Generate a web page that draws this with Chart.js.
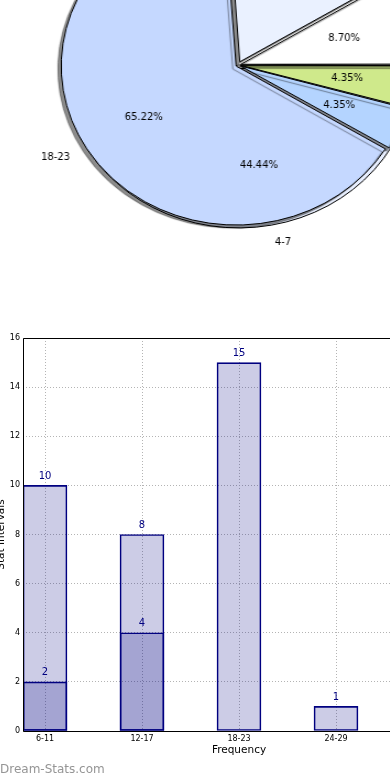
<!DOCTYPE html>
<html><head><meta charset="utf-8">
<script src="https://cdn.jsdelivr.net/npm/chart.js@4.4.1/dist/chart.umd.min.js"></script>
<style>
html,body{margin:0;padding:0;background:#fff;width:390px;height:780px;overflow:hidden;position:relative;font-family:"DejaVu Sans",sans-serif;}
.box{position:absolute;}
#pieBack,#pieFront{left:38px;top:-135px;width:400px;height:400px;transform:scaleX(1.1);transform-origin:50% 50%;}
#barBox{left:-8px;top:330px;width:463px;height:441px;}
#wm{position:absolute;left:0;top:762px;font:12px/14px "DejaVu Sans",sans-serif;color:#959595;white-space:nowrap;}
</style></head><body>
<div class="box" id="pieBack"><canvas id="c1"></canvas></div>
<div class="box" id="pieFront"><canvas id="c2"></canvas></div>
<div class="box" id="barBox"><canvas id="c3"></canvas></div>
<div id="wm">Dream-Stats.com</div>
<script>
// ---- data ----
const pieLabels = ['24-29', '30-35', '18-23', '12-17', '6-11'];
const pieValues = [1, 1, 15, 4, 2];
const pieColors = ['#CFE98B', '#B4D4FF', '#C5D8FF', '#EAF1FF', '#FFFFFF'];
const backLabels = ['4-7', '8-11'];
const backValues = [4, 5];
const backColors = ['#E8EFFF', '#FFFFFF'];
const barCategories = ['6-11', '12-17', '18-23', '24-29'];
const totalValues = [10, 8, 15, 1];
const subsetValues = [2, 4, null, null];

// ---- pie helpers ----
const FONT = '"DejaVu Sans", sans-serif';
const R_PIE = 157;
const STRETCH = 1.1;
function effOffset(px, frac) {
  const c = frac * 2 * Math.PI;
  const fix = 1 - Math.sin(Math.min(Math.PI, c));
  return px * 4 / (1 + fix);
}
function sum(a) { return a.reduce((s, v) => s + v, 0); }
const frontExplode = [4, 4, 4, 4, 4];
const backExplode = [6, 0];

function pieText(ctx, chart, labels, values, explode) {
  const meta = chart.getDatasetMeta(0);
  const total = sum(values);
  ctx.save();
  ctx.fillStyle = '#000';
  ctx.font = '10px ' + FONT;
  meta.data.forEach((arc, i) => {
    const p = arc.getProps(['x', 'y', 'startAngle', 'endAngle', 'outerRadius'], true);
    const mid = (p.startAngle + p.endAngle) / 2;
    const ex = explode[i];
    const c = Math.cos(mid), s = Math.sin(mid);
    const rp = p.outerRadius * 0.6 + ex + 2;
    ctx.save();
    ctx.translate(p.x + c * rp, p.y + s * rp);
    ctx.scale(1 / STRETCH, 1);
    ctx.textAlign = 'center'; ctx.textBaseline = 'middle';
    ctx.fillText((values[i] / total * 100).toFixed(2) + '%', 0, 0);
    ctx.restore();
    const rl = p.outerRadius * 1.1 + ex + 2;
    ctx.save();
    ctx.translate(p.x + c * rl, p.y + s * rl);
    ctx.scale(1 / STRETCH, 1);
    ctx.textAlign = c < 0 ? 'right' : 'left'; ctx.textBaseline = 'middle';
    ctx.fillText(labels[i], 0, 0);
    ctx.restore();
  });
  ctx.restore();
}

function pieConfig(labels, values, colors, explode, rotation, extraPlugins) {
  const total = sum(values);
  return {
    type: 'pie',
    data: { labels: labels, datasets: [{
      data: values, backgroundColor: colors, borderColor: '#000', borderWidth: 1,
      rotation: rotation, hoverOffset: 0,
      offset: (ctx) => (ctx.dataIndex === undefined ? 0 : effOffset(explode[ctx.dataIndex], values[ctx.dataIndex] / total))
    }] },
    options: {
      responsive: true, maintainAspectRatio: false, animation: false, events: [],
      radius: R_PIE, rotation: rotation,
      layout: { padding: 0 },
      plugins: { legend: { display: false }, tooltip: { enabled: false } }
    },
    plugins: extraPlugins
  };
}

const backChart = new Chart(document.getElementById('c1'),
  pieConfig(backLabels, backValues, backColors, backExplode, 89.3, []));

const frontChart = new Chart(document.getElementById('c2'),
  pieConfig(pieLabels, pieValues, pieColors, frontExplode, 90, [{
    id: 'shadowAndText',
    beforeDatasetsDraw(chart) {
      const c = chart.ctx; c.save();
      c.shadowColor = 'rgba(0,0,0,0.45)'; c.shadowOffsetX = -3; c.shadowOffsetY = 3; c.shadowBlur = 1;
    },
    afterDatasetsDraw(chart) { chart.ctx.restore(); },
    afterDraw(chart) {
      pieText(chart.ctx, backChart, backLabels, backValues, backExplode);
      pieText(chart.ctx, chart, pieLabels, pieValues, frontExplode);
    }
  }]));

// ---- bar chart ----
const NAVY = '#000080';
const tickFont = { family: FONT, size: 8 };
const titleFont = { family: FONT, size: 10.5 };
const GRID = '#b4b4b4';
new Chart(document.getElementById('c3'), {
  type: 'bar',
  data: { datasets: [
    { label: 'total', data: barCategories.map((c, i) => ({ x: i, y: totalValues[i] })),
      backgroundColor: 'rgba(0,0,128,0.2)', borderColor: NAVY, borderWidth: 1, borderSkipped: false,
      barThickness: 44, grouped: false },
    { label: 'subset', data: barCategories.map((c, i) => ({ x: i, y: subsetValues[i] })),
      backgroundColor: 'rgba(0,0,128,0.2)', borderColor: NAVY, borderWidth: 1, borderSkipped: false,
      barThickness: 44, grouped: false }
  ] },
  options: {
    responsive: true, maintainAspectRatio: false, animation: false, events: [],
    layout: { padding: { top: 8, right: 0, bottom: 0, left: 0 } },
    plugins: { legend: { display: false }, tooltip: { enabled: false } },
    scales: {
      x: {
        type: 'linear', min: -22 / 97, max: 410 / 97, offset: false,
        afterBuildTicks: (s) => { s.ticks = barCategories.map((c, i) => ({ value: i })); },
        afterFit: (s) => { s.height = 40; },
        ticks: { callback: (v) => barCategories[v] ?? '', font: tickFont, color: '#000', padding: 3, maxRotation: 0, autoSkip: false },
        grid: { color: GRID, lineWidth: 1, drawTicks: false, offset: false },
        border: { display: false, dash: [1, 2] },
        title: { display: true, text: 'Frequency', font: titleFont, color: '#000', padding: { top: 0, bottom: 14 } }
      },
      y: {
        min: 0, max: 16,
        afterFit: (s) => { s.width = 31; },
        ticks: { stepSize: 2, font: tickFont, color: '#000', padding: 3 },
        grid: { color: GRID, lineWidth: 1, drawTicks: false },
        border: { display: false, dash: [1, 2] },
        title: { display: true, text: 'Stat Intervals', font: titleFont, color: '#000', padding: { top: 3, bottom: 0 } }
      }
    }
  },
  plugins: [{
    id: 'frameAndLabels',
    afterDatasetsDraw(chart) {
      const ctx = chart.ctx, a = chart.chartArea;
      ctx.save();
      ctx.strokeStyle = '#000'; ctx.lineWidth = 1;
      ctx.beginPath();
      ctx.moveTo(a.right + 5, a.top + 0.5); ctx.lineTo(a.left + 0.5, a.top + 0.5);
      ctx.lineTo(a.left + 0.5, a.bottom + 0.5); ctx.lineTo(a.right + 5, a.bottom + 0.5);
      ctx.stroke();
      ctx.fillStyle = NAVY; ctx.font = '10px ' + FONT;
      ctx.textAlign = 'center'; ctx.textBaseline = 'middle';
      chart.data.datasets.forEach((ds, di) => {
        chart.getDatasetMeta(di).data.forEach((bar, i) => {
          const v = ds.data[i].y;
          if (v === null || v === undefined) return;
          ctx.fillText(String(v), bar.x, bar.y - 9);
        });
      });
      ctx.restore();
    }
  }]
});
</script>
</body></html>
